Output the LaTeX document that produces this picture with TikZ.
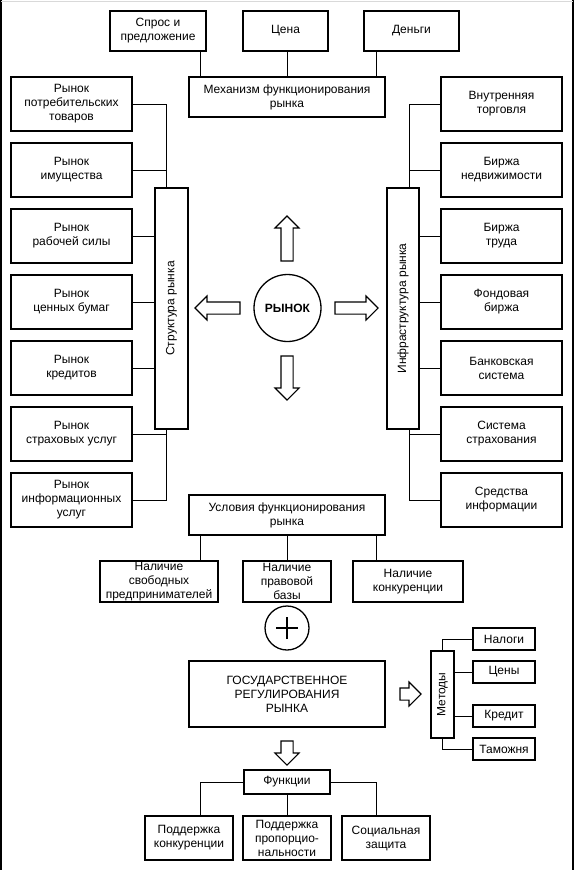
\documentclass[tikz,border=0pt]{standalone}
\usepackage{fontspec}
\setmainfont{Liberation Sans}
\usetikzlibrary{shapes.arrows}
\tikzset{
  box/.style={draw, line width=1.3pt, align=center, inner sep=0pt, font=\fontsize{12}{14}\selectfont},
  link/.style={line width=0.8pt},
  fatarrow/.style={single arrow, draw, line width=1.1pt, inner sep=5.5pt,
    single arrow head extend=6pt, single arrow head indent=0pt, minimum width=23pt}
}
\begin{document}
\begin{tikzpicture}[x=1pt, y=-1pt]
\useasboundingbox (0,0) rectangle (575,870);
% frame
\draw[line width=1.5pt] (1,0) -- (1,870);
\draw[line width=1.5pt] (573,0) -- (573,870);
\draw[gray!30] (1,1) -- (573,1);

% mechanism
\node[box, minimum width=96, minimum height=40] (spros) at (158,31) {Спрос и\\предложение};
\node[box, minimum width=85, minimum height=40] (cena) at (285.5,31) {Цена};
\node[box, minimum width=95, minimum height=40] (dengi) at (411.5,31) {Деньги};
\node[box, minimum width=196, minimum height=40] (mech) at (287,97) {Механизм функционирования\\рынка};
\coordinate (m1) at (200,0);
\coordinate (m2) at (287,0);
\coordinate (m3) at (376,0);
\draw[link] (m1 |- spros.south) -- (m1 |- mech.north);
\draw[link] (m2 |- cena.south) -- (m2 |- mech.north);
\draw[link] (m3 |- dengi.south) -- (m3 |- mech.north);

% structure of the market
\node[box, minimum width=33, minimum height=241] (struct) at (171.5,308.5) {\rotatebox{90}{Структура рынка}};
\foreach \i/\y/\t in {1/104/{Рынок\\потребительских\\товаров}, 2/170/{Рынок\\имущества},
    3/236/{Рынок\\рабочей силы}, 4/302/{Рынок\\ценных бумаг}, 5/368/{Рынок\\кредитов},
    6/434/{Рынок\\страховых услуг}, 7/500/{Рынок\\информационных\\услуг}}
  \node[box, minimum width=121, minimum height=54] (l\i) at (71.5,\y) {\t};
\coordinate (stop) at ([xshift=-5.5pt]struct.north);
\coordinate (sbot) at ([xshift=-5.5pt]struct.south);
\draw[link] (stop) |- (l1.east);
\draw[link] (l2.east) -- (l2.east -| stop);
\foreach \i in {3,4,5}
  \draw[link] (l\i.east) -- (l\i.east -| struct.west);
\draw[link] (l6.east) -- (l6.east -| sbot);
\draw[link] (sbot) |- (l7.east);

% infrastructure
\node[box, minimum width=32, minimum height=241] (infra) at (403,308.5) {\rotatebox{90}{Инфраструктура рынка}};
\foreach \i/\y/\t in {1/104/{Внутренняя\\торговля}, 2/170/{Биржа\\недвижимости},
    3/236/{Биржа\\труда}, 4/302/{Фондовая\\биржа}, 5/368/{Банковская\\система},
    6/434/{Система\\страхования}, 7/500/{Средства\\информации}}
  \node[box, minimum width=121, minimum height=54] (r\i) at (501.5,\y) {\t};
\coordinate (itop) at ([xshift=6pt]infra.north);
\coordinate (ibot) at ([xshift=6pt]infra.south);
\draw[link] (itop) |- (r1.west);
\draw[link] (r2.west) -- (r2.west -| itop);
\foreach \i in {3,4,5}
  \draw[link] (r\i.west) -- (r\i.west -| infra.east);
\draw[link] (r6.west) -- (r6.west -| ibot);
\draw[link] (ibot) |- (r7.west);

% market
\node[circle, draw, line width=1.3pt, minimum size=67pt, font=\fontsize{12}{14}\selectfont\bfseries] (rynok) at (287.5,308) {РЫНОК};
\node[fatarrow, minimum height=45pt, shape border rotate=90] (aup) at (287,241.5) {};
\node[fatarrow, minimum height=44pt, shape border rotate=270] (adown) at (287,375) {};
\node[fatarrow, minimum height=45pt, shape border rotate=180] (aleft) at (220.5,308) {};
\node[fatarrow, minimum height=43pt] (aright) at (353.5,308) {};

% conditions
\node[box, minimum width=196, minimum height=40] (usl) at (287,515) {Условия функционирования\\рынка};
\node[box, minimum width=118, minimum height=41] (n1) at (159,581.5) {Наличие\\свободных\\предпринимателей};
\node[box, minimum width=88, minimum height=41] (n2) at (287,581.5) {Наличие\\правовой\\базы};
\node[box, minimum width=110, minimum height=41] (n3) at (408,581.5) {Наличие\\конкуренции};
\draw[link] (m1 |- usl.south) -- (m1 |- n1.north);
\draw[link] (m2 |- usl.south) -- (m2 |- n2.north);
\draw[link] (m3 |- usl.south) -- (m3 |- n3.north);

% plus
\node[circle, draw, line width=1.3pt, minimum size=44pt] (plus) at (287,628) {};
\draw[line width=2.2pt] ([xshift=-11pt]plus.center) -- ([xshift=11pt]plus.center);
\draw[line width=2.2pt] ([yshift=-11pt]plus.center) -- ([yshift=11pt]plus.center);

% state regulation
\node[box, minimum width=196, minimum height=66] (gos) at (287,694) {ГОСУДАРСТВЕННОЕ\\РЕГУЛИРОВАНИЯ\\РЫНКА};
\node[fatarrow, minimum height=21pt] (agos) at (407.5,694) {};
\node[box, minimum width=23, minimum height=87] (meth) at (442.5,694.5) {\rotatebox{90}{Методы}};
\node[box, minimum width=62, minimum height=22] (nalogi) at (504,639) {Налоги};
\node[box, minimum width=62, minimum height=22] (ceny) at (504,672) {Цены};
\node[box, minimum width=62, minimum height=22] (kredit) at (504,716) {Кредит};
\node[box, minimum width=62, minimum height=22] (tamozh) at (504,749) {Таможня};
\draw[link] (meth.north) |- (nalogi.west);
\draw[link] (ceny.west -| meth.east) -- (ceny.west);
\draw[link] (kredit.west -| meth.east) -- (kredit.west);
\draw[link] (meth.south) |- (tamozh.west);

% functions
\node[fatarrow, minimum height=24pt, shape border rotate=270] (afunc) at (287,750) {};
\node[box, minimum width=86, minimum height=24] (func) at (287,782) {Функции};
\node[box, minimum width=88, minimum height=44] (f1) at (189,838) {Поддержка\\конкуренции};
\node[box, minimum width=88, minimum height=44] (f2) at (287,838) {Поддержка\\пропорцио-\\нальности};
\node[box, minimum width=88, minimum height=44] (f3) at (386,838) {Социальная\\защита};
\draw[link] (func.west) -| (m1 |- f1.north);
\draw[link] (func.south) -- (f2.north);
\draw[link] (func.east) -| (m3 |- f3.north);
\end{tikzpicture}
\end{document}
